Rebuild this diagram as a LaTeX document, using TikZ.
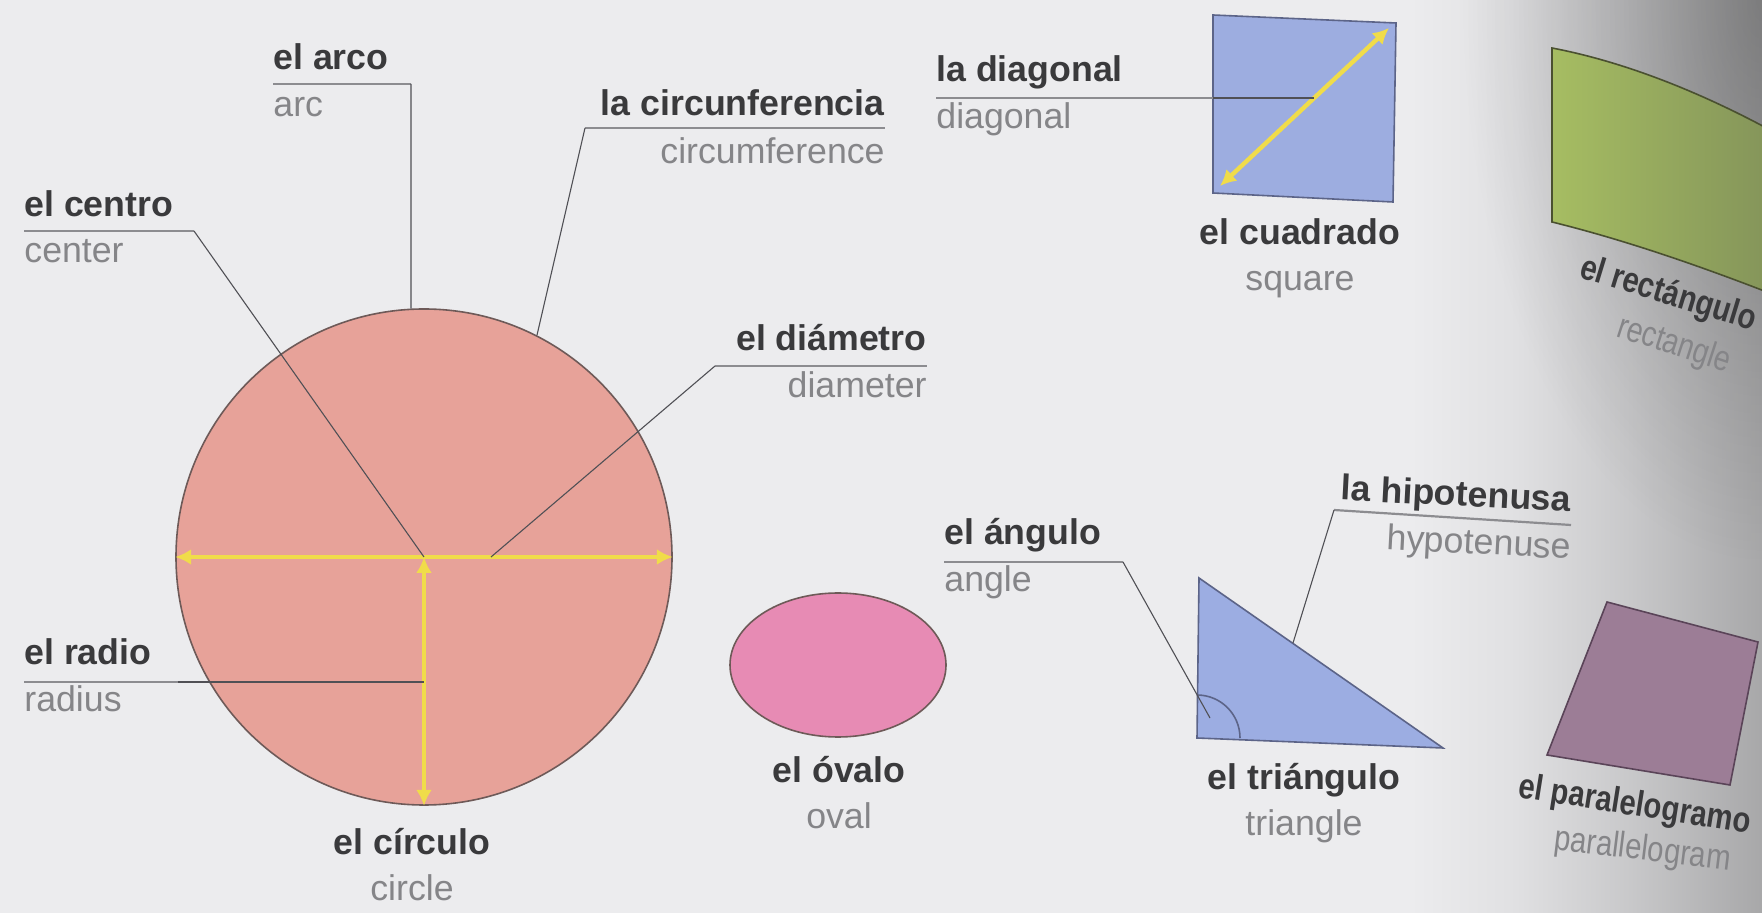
\documentclass[tikz,border=0pt]{standalone}
\usepackage{fontspec}
\setmainfont{Liberation Sans}
\usetikzlibrary{arrows.meta,shapes.geometric,fadings}
\definecolor{bgc}{HTML}{ECECEE}
\definecolor{esc}{HTML}{3A3A3C}
\definecolor{enc}{HTML}{858588}
\definecolor{ulc}{HTML}{8C8C90}
\definecolor{ldc}{HTML}{505055}
\definecolor{yel}{HTML}{F0DC4A}
\definecolor{circf}{HTML}{E7A299}
\definecolor{circd}{HTML}{6E5A58}
\definecolor{ovalf}{HTML}{E78BB4}
\definecolor{sqf}{HTML}{9DADE0}
\definecolor{trif}{HTML}{9CADE2}
\definecolor{blued}{HTML}{5C6488}
\definecolor{greenl}{HTML}{A6BD62}
\definecolor{greenr}{HTML}{84945A}
\definecolor{greend}{HTML}{4A5030}
\definecolor{parf}{HTML}{9C7D96}
\definecolor{pard}{HTML}{5A4458}
\pgfdeclarehorizontalshading{gutter}{100bp}{color(0bp)=(bgc); color(25bp)=(bgc); color(40bp)=(bgc!95!black); color(56bp)=(bgc!85!black); color(75bp)=(bgc!71!black); color(100bp)=(bgc!71!black)}
\tikzfading[name=cornerfade, inner color=transparent!0, outer color=transparent!100]
\begin{document}
\begin{tikzpicture}[x=0.5pt,y=-0.5pt,
  es/.style={font=\fontsize{17.85}{20}\selectfont\bfseries, text=esc, inner sep=0pt},
  en/.style={font=\fontsize{17.85}{20}\selectfont, text=enc, inner sep=0pt},
  uline/.style={draw=ulc, line width=1.1pt},
  leader/.style={draw=ldc, line width=0.55pt},
  yarrow/.style={draw=yel, line width=2.2pt, {Latex[length=8pt,width=8pt]}-{Latex[length=8pt,width=8pt]}},
]
\useasboundingbox (0,0) rectangle (1762,913);
\begin{scope}
\clip (0,0) rectangle (1762,913);
\fill[bgc] (0,0) rectangle (1762,913);
\shade[shading=gutter] (1410,0) rectangle (1762,913);
\fill[black, opacity=0.26, path fading=cornerfade] (1462,-560) rectangle (2062,560);

% ---------- circle ----------
\node[circle, minimum size=248pt, inner sep=0pt, fill=circf, draw=circd, line width=0.8pt] (circ) at (424,557) {};
\draw[yarrow] (circ.west) -- (circ.east);
\draw[yarrow] (circ.center) -- (circ.south);

\node[es, anchor=base west] (arcoES) at (273,70) {el arco};
\node[en, anchor=base west] (arcoEN) at (273,117) {arc};
\coordinate (arcoU1) at (273,84);
\coordinate (arcoU2) at (411,84);
\draw[uline] (arcoU1) -- (arcoU2);
\draw[leader] (arcoU2) -- (circ.93);

\node[es, anchor=base east] (circES) at (885,116) {la circunferencia};
\node[en, anchor=base east] (circEN) at (885,164) {circumference};
\coordinate (circU1) at (585,128);
\coordinate (circU2) at (885,128);
\draw[uline] (circU1) -- (circU2);
\draw[leader] (circU1) -- (circ.63);

\node[es, anchor=base west] (centES) at (24,217) {el centro};
\node[en, anchor=base west] (centEN) at (24,263) {center};
\coordinate (centU1) at (24,231);
\coordinate (centU2) at (194,231);
\draw[uline] (centU1) -- (centU2);
\draw[leader] (centU2) -- (circ.center);

\node[es, anchor=base east] (diamES) at (927,351) {el diámetro};
\node[en, anchor=base east] (diamEN) at (927,398) {diameter};
\coordinate (diamU1) at (715,366);
\coordinate (diamU2) at (927,366);
\coordinate (diamP) at (491,557);
\draw[uline] (diamU1) -- (diamU2);
\draw[leader] (diamU1) -- (diamP);

\node[es, anchor=base west] (radES) at (24,665) {el radio};
\node[en, anchor=base west] (radEN) at (24,712) {radius};
\coordinate (radU1) at (24,682);
\coordinate (radU2) at (178,682);
\coordinate (radP) at (424,682);
\draw[uline] (radU1) -- (radU2);
\draw[leader] (radU2) -- (radP);

\node[es, anchor=base] (cirES) at (412,855) {el círculo};
\node[en, anchor=base] (cirEN) at (412,900) {circle};

% ---------- oval ----------
\node[ellipse, minimum width=108pt, minimum height=72pt, inner sep=0pt, fill=ovalf, draw=circd, line width=0.8pt] (oval) at (838,665) {};
\node[es, anchor=base] (ovES) at (839,783) {el óvalo};
\node[en, anchor=base] (ovEN) at (839,829) {oval};

% ---------- square ----------
\coordinate (sq1) at (1213,15);
\coordinate (sq2) at (1396,23);
\coordinate (sq3) at (1393,202);
\coordinate (sq4) at (1213,193);
\draw[fill=sqf, draw=blued, line width=0.8pt] (sq1) -- (sq2) -- (sq3) -- (sq4) -- cycle;
\coordinate (dg1) at (1220,186);
\coordinate (dg2) at (1389,28);
\draw[yarrow] (dg1) -- (dg2);
\node[es, anchor=base west] (dgES) at (936,82) {la diagonal};
\node[en, anchor=base west] (dgEN) at (936,129) {diagonal};
\coordinate (dgU1) at (936,98);
\coordinate (dgU2) at (1213,98);
\coordinate (dgP) at (1314,98);
\draw[uline] (dgU1) -- (dgU2);
\draw[leader] (dgU2) -- (dgP);
\node[es, anchor=base] (sqES) at (1300,245) {el cuadrado};
\node[en, anchor=base] (sqEN) at (1300,291) {square};

% ---------- rectangle ----------
\coordinate (re1) at (1552,48);
\coordinate (re2) at (1772,131);
\coordinate (re3) at (1772,294);
\coordinate (re4) at (1552,222);
\shade[left color=greenl, right color=greenr, draw=greend, line width=0.8pt]
  (re1) .. controls (1625,62) and (1700,92) .. (re2) -- (re3)
  .. controls (1700,266) and (1625,240) .. (re4) -- cycle;
\node[es, anchor=base west, rotate=-17, xscale=0.82] (reES) at (1578,277) {el rectángulo};
\node[en, anchor=base west, rotate=-18, xscale=0.8] (reEN) at (1615,336) {rectangle};

% ---------- triangle ----------
\coordinate (tA) at (1199,578);
\coordinate (tB) at (1197,738);
\coordinate (tC) at (1443,748);
\draw[fill=trif, draw=blued, line width=0.8pt] (tA) -- (tC) -- (tB) -- cycle;
\coordinate (tArc) at (1240,738);
\draw[draw=blued, line width=0.8pt] (tArc) arc[start angle=0, end angle=-90, radius=43];
\node[es, anchor=base west] (angES) at (944,545) {el ángulo};
\node[en, anchor=base west] (angEN) at (944,592) {angle};
\coordinate (angU1) at (944,562);
\coordinate (angU2) at (1123,562);
\coordinate (angP) at (1210,718);
\draw[uline] (angU1) -- (angU2);
\draw[leader] (angU2) -- (angP);
\node[es, anchor=base east, rotate=-3] (hypES) at (1571,512) {la hipotenusa};
\node[en, anchor=base east, rotate=-3] (hypEN) at (1571,559) {hypotenuse};
\coordinate (hypU1) at (1334,510);
\coordinate (hypU2) at (1571,525);
\coordinate (hypP) at (1293,643);
\draw[uline] (hypU1) -- (hypU2);
\draw[leader] (hypU1) -- (hypP);
\node[es, anchor=base] (trES) at (1304,790) {el triángulo};
\node[en, anchor=base] (trEN) at (1304,835) {triangle};

% ---------- parallelogram ----------
\coordinate (pa1) at (1607,602);
\coordinate (pa2) at (1758,642);
\coordinate (pa3) at (1730,785);
\coordinate (pa4) at (1547,755);
\draw[fill=parf, draw=pard, line width=0.8pt] (pa1) -- (pa2) -- (pa3) -- (pa4) -- cycle;
\node[es, anchor=base west, rotate=-9, xscale=0.82] (paES) at (1517,797) {el paralelogramo};
\node[en, anchor=base west, rotate=-7, xscale=0.82] (paEN) at (1553,849) {parallelogram};
\end{scope}
\end{tikzpicture}
\end{document}
